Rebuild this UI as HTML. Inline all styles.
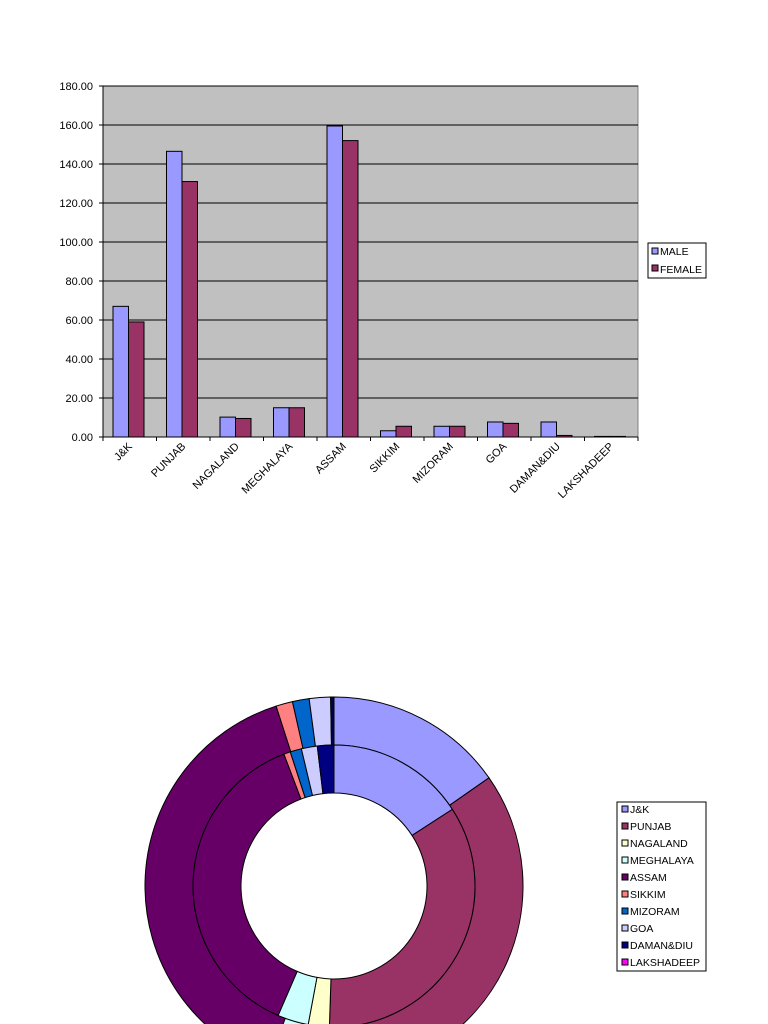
<!DOCTYPE html>
<html><head><meta charset="utf-8"><style>
html,body{margin:0;padding:0;background:#fff;width:768px;height:1024px;overflow:hidden}
svg{display:block;font-family:"Liberation Sans",Arial,sans-serif}
</style></head><body>
<svg id="s" width="768" height="1024" viewBox="0 0 768 1024"></svg>
<script>
var s=document.getElementById('s'),h='';
var L=103,R=638,T=86,B=437;
h+='<rect x="'+L+'" y="'+T+'" width="'+(R-L)+'" height="'+(B-T)+'" fill="#C0C0C0" stroke="#808080"/>';
for(var i=0;i<=9;i++){var y=B-i*(B-T)/9;
 h+='<line x1="'+L+'" x2="'+R+'" y1="'+y+'" y2="'+y+'" stroke="#000" stroke-width="1"/>';
 h+='<line x1="'+(L-4)+'" x2="'+L+'" y1="'+y+'" y2="'+y+'" stroke="#000"/>';
 h+='<text x="'+(L-10)+'" y="'+(y+4)+'" font-size="11" text-anchor="end">'+(i*20).toFixed(2)+'</text>';}
h+='<line x1="'+L+'" x2="'+L+'" y1="'+T+'" y2="'+B+'" stroke="#000"/>';
var cats=['J&amp;K','PUNJAB','NAGALAND','MEGHALAYA','ASSAM','SIKKIM','MIZORAM','GOA','DAMAN&amp;DIU','LAKSHADEEP'];
var m=[67,146.5,10.2,15,159.5,3.2,5.5,7.7,7.7,0.3],f=[59,131,9.5,15,152,5.5,5.5,7,0.8,0.3];
var cw=(R-L)/10;
function yv(v){return B-v*(B-T)/180;}
for(var i=0;i<10;i++){var x=L+i*cw;
 h+='<line x1="'+x+'" x2="'+x+'" y1="'+B+'" y2="'+(B+4)+'" stroke="#000"/>';
 h+='<rect x="'+(x+10)+'" y="'+yv(m[i])+'" width="15.5" height="'+(B-yv(m[i]))+'" fill="#9999FF" stroke="#000"/>';
 h+='<rect x="'+(x+25.5)+'" y="'+yv(f[i])+'" width="15.5" height="'+(B-yv(f[i]))+'" fill="#993366" stroke="#000"/>';
 var cx=x+cw/2+3,cy=B+10;
 h+='<text transform="translate('+cx+','+cy+') rotate(-45)" font-size="11" text-anchor="end">'+cats[i]+'</text>';}
h+='<line x1="'+R+'" x2="'+R+'" y1="'+B+'" y2="'+(B+4)+'" stroke="#000"/>';
h+='<line x1="'+L+'" x2="'+R+'" y1="'+B+'" y2="'+B+'" stroke="#000"/>';
h+='<rect x="648" y="243" width="58" height="35" fill="#fff" stroke="#000"/>';
h+='<rect x="652" y="248" width="6" height="6" fill="#9999FF" stroke="#000"/><text x="660" y="255" font-size="10.5">MALE</text>';
h+='<rect x="652" y="265" width="6" height="6" fill="#993366" stroke="#000"/><text x="660" y="273" font-size="10.5">FEMALE</text>';
// donut
var col=['#9999FF','#993366','#FFFFCC','#CCFFFF','#660066','#FF8080','#0066CC','#CCCCFF','#000080','#FF00FF'];
var cx=334,cy=886;
function ring(d,r0,r1){var t=0;d.forEach(function(v){t+=v});var a=0;
 d.forEach(function(v,i){var a1=a+v/t*2*Math.PI;
  function p(r,an){return (cx+r*Math.sin(an)).toFixed(2)+','+(cy-r*Math.cos(an)).toFixed(2);}
  var lg=(a1-a)>Math.PI?1:0;
  h+='<path d="M'+p(r1,a)+' A'+r1+','+r1+' 0 '+lg+' 1 '+p(r1,a1)+' L'+p(r0,a1)+' A'+r0+','+r0+' 0 '+lg+' 0 '+p(r0,a)+' Z" fill="'+col[i]+'" stroke="#000" stroke-width="1"/>';
  a=a1;});}
ring(f,141,189);ring(m,93,141);
h+='<rect x="617" y="802" width="89" height="169" fill="#fff" stroke="#000"/>';
var ln=['J&amp;K','PUNJAB','NAGALAND','MEGHALAYA','ASSAM','SIKKIM','MIZORAM','GOA','DAMAN&amp;DIU','LAKSHADEEP'];
for(var i=0;i<10;i++){var y=806+i*17;
 h+='<rect x="622" y="'+y+'" width="6" height="6" fill="'+col[i]+'" stroke="#000"/><text x="630" y="'+(y+7)+'" font-size="10.5">'+ln[i]+'</text>';}
s.innerHTML=h;
</script>
</body></html>
